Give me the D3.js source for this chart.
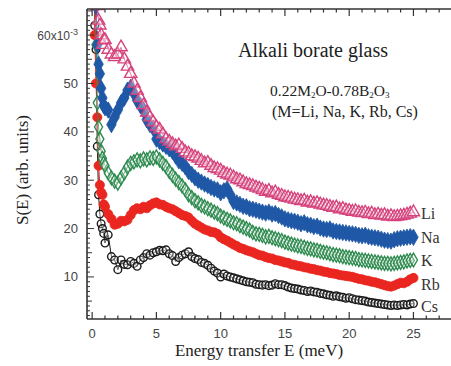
<!DOCTYPE html>
<html>
<head>
<meta charset="utf-8">
<script src="https://cdn.jsdelivr.net/npm/d3@7"></script>
<style>
  html, body { margin: 0; padding: 0; background: #fff; }
  svg { display: block; }
</style>
</head>
<body>
<svg id="chart" width="451" height="366"></svg>
<script>
// Energy transfer grid (meV), shared by all five glasses
const energy = [
  0.1, 0.2, 0.3, 0.4, 0.5, 0.6, 0.7, 0.8, 0.9, 1.0,
  1.25, 1.5, 1.75, 2.0, 2.25, 2.5, 2.75, 3.0, 3.25, 3.5, 3.75, 4.0, 4.25, 4.5, 4.75, 5.0,
  5.25, 5.5, 5.75, 6.0, 6.25, 6.5, 6.75, 7.0, 7.25, 7.5, 7.75, 8.0, 8.25, 8.5, 8.75, 9.0,
  9.25, 9.5, 9.75, 10.0, 10.25, 10.5, 10.75, 11.0, 11.25, 11.5, 11.75, 12.0, 12.25, 12.5,
  12.75, 13.0, 13.25, 13.5, 13.75, 14.0, 14.25, 14.5, 14.75, 15.0, 15.25, 15.5, 15.75, 16.0,
  16.25, 16.5, 16.75, 17.0, 17.25, 17.5, 17.75, 18.0, 18.25, 18.5, 18.75, 19.0, 19.25, 19.5,
  19.75, 20.0, 20.25, 20.5, 20.75, 21.0, 21.25, 21.5, 21.75, 22.0, 22.25, 22.5, 22.75, 23.0,
  23.25, 23.5, 23.75, 24.0, 24.25, 24.5, 24.75, 25.0
];

// S(E) in units of 1e-3
const sLi = [
  95, 80, 70, 66, 63, 62, 60, 58, 59, 59,
  57, 56, 55.5, 56, 57.5, 55, 53.5, 52, 50, 48.5, 47, 45.5, 44, 43, 42, 41,
  40.5, 39.5, 38.5, 38, 37.5, 37, 37.2, 36.5, 35.8, 35.5, 35, 34.8, 34.5, 34, 33.5, 33.6,
  33, 32.5, 32.3, 32, 31.5, 31.2, 31, 30.6, 30.2, 30, 29.6, 29.2, 29, 28.8,
  28.5, 28.3, 28, 27.6, 27.8, 27.3, 27.5, 27, 26.8, 26.5, 26.4, 26.2, 26, 25.9,
  25.7, 25.8, 25.4, 25.5, 25.2, 25.3, 25, 24.8, 24.7, 24.5, 24.3, 24.4, 24, 24.1,
  23.8, 23.7, 23.5, 23.6, 23.3, 23.2, 23.3, 23, 23.1, 22.8, 22.9, 22.7, 22.8, 22.5,
  22.6, 22.4, 22.5, 22.6, 22.7, 22.9, 23.1, 23.4
];
const sNa = [
  95, 78, 66, 58, 54, 52, 49, 47, 45.5, 45,
  44.5, 41.5, 43, 44.5, 46, 47, 48.6, 49.2, 48, 46.5, 45.5, 44.5, 42.5, 41.5, 40.8, 38.5,
  38, 37.5, 37, 36.5, 36, 35, 34, 33.5, 32.8, 31.8, 31.2, 30.5, 30, 29.6, 29.2, 28.9,
  28.5, 28.2, 28, 27.4, 27.8, 28.2, 27, 25.6, 25.3, 25, 24.6, 24.5, 24.1, 24,
  23.8, 23.6, 23.4, 23.2, 23.4, 23, 23.1, 22.7, 22.4, 22, 21.8, 21.6, 21.5, 21.3,
  21, 21.2, 20.8, 20.7, 20.4, 20.5, 20.1, 19.9, 19.8, 19.9, 19.5, 19.4, 19.3, 19.2,
  19.1, 19, 18.9, 18.8, 18.6, 18.5, 18.6, 18.3, 18.2, 18.1, 18, 17.8, 17.6, 17.5,
  17.4, 17.7, 17.9, 18, 18.1, 18.2, 18.3, 18.2
];
const sK = [
  95, 75, 58, 46, 41, 38.5, 36, 34.5, 33.5, 33,
  31.5, 30.5, 29.8, 29.4, 30.5, 31.5, 32.7, 33.5, 33.8, 34.2, 34, 34.4, 34.2, 34.6, 34.5, 34.8,
  34.2, 33.5, 32.8, 31.8, 31, 30.2, 29.5, 28.8, 28, 27, 26.4, 25.8, 25.3, 24.8, 24.5, 24.1,
  23.8, 23.4, 23.1, 22.6, 22.2, 21.9, 21.6, 21.2, 21, 20.6, 20.3, 20, 19.7, 19.2,
  18.9, 18.8, 18.6, 18.3, 18.4, 18.1, 17.9, 17.7, 17.5, 17.2, 17, 16.8, 16.6, 16.4,
  16.3, 16.1, 15.9, 15.8, 15.6, 15.5, 15.3, 15.1, 15, 14.8, 14.6, 14.5, 14.4, 14.2,
  14.1, 14, 13.9, 13.8, 13.6, 13.5, 13.4, 13.3, 13.2, 13.1, 13, 12.9, 12.8, 12.8,
  12.7, 12.8, 12.9, 13, 13.1, 13.3, 13.4, 13.5
];
const sRb = [
  90, 60, 50, 43, 33, 29, 27.5, 27, 25, 24.5,
  23, 22, 20.8, 21, 21.6, 21.5, 21.8, 22.8, 23.8, 24.2, 24, 24.5, 24.2, 24.8, 25.2, 25.4,
  25, 24.9, 24.5, 24.2, 24, 23.6, 23.2, 22.8, 22.6, 22.3, 21.6, 21, 20.6, 20.2, 19.8, 19.6,
  19.3, 19.2, 18.9, 18.2, 17.8, 17.5, 17.1, 16.7, 16.4, 16, 15.8, 15.5, 15.3, 15.1,
  14.8, 14.5, 14.4, 14.1, 13.9, 13.8, 13.5, 13.4, 13.2, 13, 12.9, 12.6, 12.5, 12.3,
  12.2, 12, 11.9, 11.7, 11.6, 11.4, 11.3, 11.1, 11, 10.8, 10.7, 10.6, 10.4, 10.3,
  10.2, 10.1, 10, 9.8, 9.6, 9.5, 9.3, 9.2, 9, 8.9, 8.7, 8.5, 8.3, 8.1,
  8, 8.2, 8.5, 8.8, 8.7, 9, 9.5, 9.8
];
const sCs = [
  85, 62, 57, 37, 27, 23, 21, 20, 19, 17,
  18.7, 14.2, 13.5, 11.5, 13.5, 12.6, 12.5, 13.2, 12.8, 12.2, 13.5, 14, 14.8, 14.5, 15, 15.2,
  15.5, 15.4, 15.6, 14.8, 14.4, 13.2, 14, 14.5, 14.8, 15.2, 14.2, 13.8, 13.6, 13, 12.8, 12.4,
  11.8, 11.2, 10.8, 10, 10.6, 10.2, 10, 9.8, 9.6, 9.4, 9.2, 9, 8.9, 8.8,
  8.5, 8.4, 8.3, 8.4, 8.2, 8.3, 8.6, 8.4, 8.4, 8.2, 7.9, 7.7, 7.6, 7.5,
  7.3, 7.2, 7, 7.1, 6.9, 6.8, 6.6, 6.5, 6.3, 6.2, 6, 6.1, 5.9, 5.8,
  5.6, 5.7, 5.5, 5.3, 5.2, 5.1, 5, 4.8, 4.7, 4.6, 4.5, 4.4, 4.3, 4.2,
  4.1, 4.2, 4.1, 4.2, 4.3, 4.2, 4.4, 4.5
];

const seriesNames = ["Li", "Na", "K", "Rb", "Cs"];
const seriesValues = [sLi, sNa, sK, sRb, sCs];
const seriesColors = ["#d5427c", "#1f58a6", "#2e8b4f", "#ea2620", "#1a1a1a"];
const seriesSymbols = [d3.symbolTriangle, d3.symbolDiamond, d3.symbolDiamond, d3.symbolCircle, d3.symbolCircle];
const seriesFilled = [false, true, false, true, false];
const seriesSizes = [66, 78, 56, 66, 46];

const yTickValues = [10, 20, 30, 40, 50, 60];
const xTickValues = [0, 5, 10, 15, 20, 25];

const svg = d3.select("#chart");
const plotLeft = 87, plotRight = 452, plotTop = 9, plotBottom = 319;

const x = d3.scaleLinear().domain([-0.4, 28]).range([plotLeft, plotRight]);
const y = d3.scaleLinear().domain([1.3, 65.4]).range([plotBottom, plotTop]);

svg.append("clipPath").attr("id", "plotArea")
  .append("rect").attr("x", plotLeft).attr("y", plotTop)
  .attr("width", plotRight - plotLeft).attr("height", plotBottom - plotTop);

const plot = svg.append("g").attr("clip-path", "url(#plotArea)");

// Series drawn back to front: Cs first so Li sits on top
for (let s = seriesNames.length - 1; s >= 0; s--) {
  const pts = energy.map((e, i) => ({ e, v: seriesValues[s][i] }));
  const color = seriesColors[s];
  plot.append("path")
    .datum(pts)
    .attr("fill", "none")
    .attr("stroke", color)
    .attr("stroke-width", 1)
    .attr("d", d3.line().x(d => x(d.e)).y(d => y(d.v)));
  const sym = d3.symbol().type(seriesSymbols[s]).size(seriesSizes[s]);
  plot.append("g").selectAll("path")
    .data(pts)
    .join("path")
    .attr("transform", d => `translate(${x(d.e)},${y(d.v)})`)
    .attr("d", sym)
    .attr("fill", seriesFilled[s] ? color : "rgba(255,255,255,0.3)")
    .attr("stroke", color)
    .attr("stroke-width", seriesFilled[s] ? 0.8 : 1.4);
}

// Frame (left, bottom, top) with inward ticks
const axisColor = "#333";
const frame = svg.append("g").attr("stroke", axisColor).attr("fill", "none");
frame.append("line").attr("x1", plotLeft).attr("x2", plotLeft).attr("y1", plotTop).attr("y2", plotBottom).attr("stroke-width", 1.6);
frame.append("line").attr("x1", plotLeft).attr("x2", plotRight).attr("y1", plotBottom).attr("y2", plotBottom).attr("stroke-width", 1.6);
frame.append("line").attr("x1", plotLeft).attr("x2", plotRight).attr("y1", plotTop).attr("y2", plotTop).attr("stroke-width", 1.6);

const xMinor = d3.range(0, 28, 1);
const yMinor = d3.range(2, 66, 1);

frame.append("g").selectAll("line").data(xMinor).join("line")
  .attr("x1", d => x(d)).attr("x2", d => x(d))
  .attr("y1", plotBottom).attr("y2", d => plotBottom - (d % 5 === 0 ? 7 : 3.5))
  .attr("stroke-width", 1.2);
frame.append("g").selectAll("line").data(xMinor).join("line")
  .attr("x1", d => x(d)).attr("x2", d => x(d))
  .attr("y1", plotTop).attr("y2", d => plotTop + (d % 5 === 0 ? 7 : 3.5))
  .attr("stroke-width", 1.2);
frame.append("g").selectAll("line").data(yMinor).join("line")
  .attr("y1", d => y(d)).attr("y2", d => y(d))
  .attr("x1", plotLeft).attr("x2", d => plotLeft + (d % 10 === 0 ? 7 : (d % 5 === 0 ? 5 : 3)))
  .attr("stroke-width", 1);

// Tick labels
const tickFont = "'Liberation Sans', Arial, sans-serif";
svg.append("g").selectAll("text").data(xTickValues).join("text")
  .attr("x", d => x(d)).attr("y", 338)
  .attr("text-anchor", "middle")
  .attr("font-family", tickFont).attr("font-size", 13)
  .attr("fill", "#444")
  .text(d => d);

const yLabels = svg.append("g");
yTickValues.forEach(v => {
  const t = yLabels.append("text")
    .attr("x", 78).attr("y", y(v) + 4.5)
    .attr("text-anchor", "end")
    .attr("font-family", tickFont).attr("font-size", 13)
    .attr("fill", "#444");
  if (v === 60) {
    t.append("tspan").attr("font-size", 12).text("60x10");
    t.append("tspan").attr("font-size", 9).attr("dy", -5).text("-3");
  } else {
    t.text(v);
  }
});

// Axis titles
const serif = "'Liberation Serif', 'Times New Roman', serif";
svg.append("text")
  .attr("x", 259).attr("y", 356)
  .attr("text-anchor", "middle")
  .attr("font-family", serif).attr("font-size", 17)
  .attr("fill", "#222")
  .text("Energy transfer E (meV)");
svg.append("text")
  .attr("transform", "translate(28,170) rotate(-90)")
  .attr("text-anchor", "middle")
  .attr("font-family", serif).attr("font-size", 17)
  .attr("fill", "#222")
  .text("S(E) (arb. units)");

// Annotations
svg.append("text")
  .attr("x", 238).attr("y", 57)
  .attr("font-family", serif).attr("font-size", 20)
  .attr("fill", "#222")
  .text("Alkali borate glass");

const formula = svg.append("text")
  .attr("x", 270).attr("y", 96)
  .attr("font-family", serif).attr("font-size", 15.5)
  .attr("fill", "#222");
[["0.22M", 0], ["2", 1], ["O-0.78B", 0], ["2", 1], ["O", 0], ["3", 1]].forEach(([s, sub]) => {
  formula.append("tspan")
    .attr("font-size", sub ? 9 : 15.5)
    .attr("baseline-shift", sub ? "-2" : null)
    .text(s);
});
svg.append("text")
  .attr("x", 272).attr("y", 117)
  .attr("font-family", serif).attr("font-size", 16)
  .attr("fill", "#222")
  .text("(M=Li, Na, K, Rb, Cs)");

// Series labels at the right-hand end of each curve
const labelY = [219, 243, 266, 290, 312];
svg.append("g").selectAll("text").data(seriesNames).join("text")
  .attr("x", 421).attr("y", (d, i) => labelY[i])
  .attr("font-family", serif).attr("font-size", 16)
  .attr("fill", "#333")
  .text(d => d);
</script>
</body>
</html>
